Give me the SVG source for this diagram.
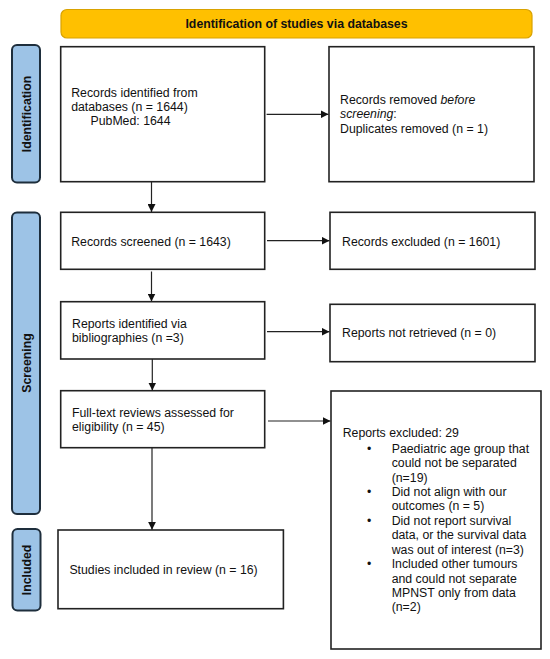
<svg xmlns="http://www.w3.org/2000/svg" width="550" height="659" viewBox="0 0 550 659">
<defs>
<style>
.box{fill:#fff;stroke:#222;stroke-width:1.6}
.side{fill:#9DC3E6;stroke:#1E2E3C;stroke-width:2}
.t{font-family:"Liberation Sans",Arial,sans-serif;font-size:12.3px;fill:#111}
.b{font-family:"Liberation Sans",Arial,sans-serif;font-size:12.3px;font-weight:bold;fill:#111}
.c{stroke:#222;stroke-width:1.2;fill:none;marker-end:url(#ah)}
</style>
<marker id="ah" viewBox="0 0 10 10" refX="10" refY="5" markerWidth="8" markerHeight="8" markerUnits="userSpaceOnUse" orient="auto">
<path d="M0,0 L10,5 L0,10 z" fill="#111"/>
</marker>
</defs>
<rect width="550" height="659" fill="#fff"/>

<g id="banner">
<rect x="61" y="9.5" width="471" height="28.5" rx="6" fill="#FFC000" stroke="#D9A200" stroke-width="1.2"/>
<text class="b" x="296.5" y="28.3" text-anchor="middle">Identification of studies via databases</text>
</g>

<g id="label-identification">
<rect class="side" x="12" y="45" width="28" height="137.5" rx="5"/>
<text class="b" transform="translate(30.5,114) rotate(-90)" text-anchor="middle">Identification</text>
</g>
<g id="label-screening">
<rect class="side" x="12" y="212.5" width="28" height="301.5" rx="5"/>
<text class="b" transform="translate(30.5,363) rotate(-90)" text-anchor="middle">Screening</text>
</g>
<g id="label-included">
<rect class="side" x="12.5" y="529" width="28" height="81.5" rx="5"/>
<text class="b" transform="translate(30.5,570) rotate(-90)" text-anchor="middle">Included</text>
</g>

<g id="n-records-identified">
<rect class="box" x="60.7" y="46.7" width="204" height="135"/>
<text class="t" x="71.2" y="96.7">Records identified from</text>
<text class="t" x="71.2" y="111">databases (n = 1644)</text>
<text class="t" x="90.5" y="125.3">PubMed: 1644</text>
</g>
<g id="n-records-removed">
<rect class="box" x="329" y="46.7" width="205" height="135"/>
<text class="t" x="340" y="104">Records removed <tspan font-style="italic">before</tspan></text>
<text class="t" x="340" y="118.3"><tspan font-style="italic">screening</tspan>:</text>
<text class="t" x="340" y="132.7">Duplicates removed (n = 1)</text>
</g>
<g id="n-records-screened">
<rect class="box" x="60.7" y="212.3" width="204" height="57"/>
<text class="t" x="71.2" y="246">Records screened (n = 1643)</text>
</g>
<g id="n-records-excluded">
<rect class="box" x="330" y="212.3" width="205" height="57"/>
<text class="t" x="342" y="246">Records excluded (n = 1601)</text>
</g>
<g id="n-reports-bibliographies">
<rect class="box" x="60.7" y="301.7" width="204" height="57.3"/>
<text class="t" x="72" y="328.3">Reports identified via</text>
<text class="t" x="72" y="342.3">bibliographies (n =3)</text>
</g>
<g id="n-reports-not-retrieved">
<rect class="box" x="330" y="304.3" width="205" height="57.4"/>
<text class="t" x="342" y="337.3">Reports not retrieved (n = 0)</text>
</g>
<g id="n-fulltext">
<rect class="box" x="60.7" y="390.7" width="204" height="57"/>
<text class="t" x="72" y="416.7">Full-text reviews assessed for</text>
<text class="t" x="72" y="431">eligibility (n = 45)</text>
</g>
<g id="n-reports-excluded">
<rect class="box" x="331" y="391" width="210" height="258"/>
<text class="t" x="342.7" y="436.7">Reports excluded: 29</text>
<g class="t">
<text x="367" y="452.7">•</text>
<text x="391.7" y="452.7">Paediatric age group that</text>
<text x="391.7" y="467.3">could not be separated</text>
<text x="391.7" y="481.5">(n=19)</text>
<text x="367" y="496">•</text>
<text x="391.7" y="496">Did not align with our</text>
<text x="391.7" y="510.3">outcomes (n = 5)</text>
<text x="367" y="525">•</text>
<text x="391.7" y="525">Did not report survival</text>
<text x="391.7" y="539.3">data, or the survival data</text>
<text x="391.7" y="553.5">was out of interest (n=3)</text>
<text x="367" y="568.3">•</text>
<text x="391.7" y="568.3">Included other tumours</text>
<text x="391.7" y="582.5">and could not separate</text>
<text x="391.7" y="596.7">MPNST only from data</text>
<text x="391.7" y="610.9">(n=2)</text>
</g>
</g>
<g id="n-studies-included">
<rect class="box" x="58" y="530" width="225.4" height="78.7"/>
<text class="t" x="69.4" y="574">Studies included in review (n = 16)</text>
</g>

<g id="connectors">
<line class="c" x1="151.5" y1="181.7" x2="151.5" y2="212"/>
<line class="c" x1="151.5" y1="271.5" x2="151.5" y2="301.5"/>
<line class="c" x1="152.3" y1="359" x2="152.3" y2="390.5"/>
<line class="c" x1="152" y1="447.7" x2="152" y2="529.8"/>
<line class="c" x1="266.6" y1="114.3" x2="328.5" y2="114.3"/>
<line class="c" x1="267" y1="240.7" x2="329.5" y2="240.7"/>
<line class="c" x1="267" y1="331.7" x2="329.5" y2="331.7"/>
<line class="c" x1="268" y1="421" x2="330.5" y2="421"/>
</g>
</svg>
